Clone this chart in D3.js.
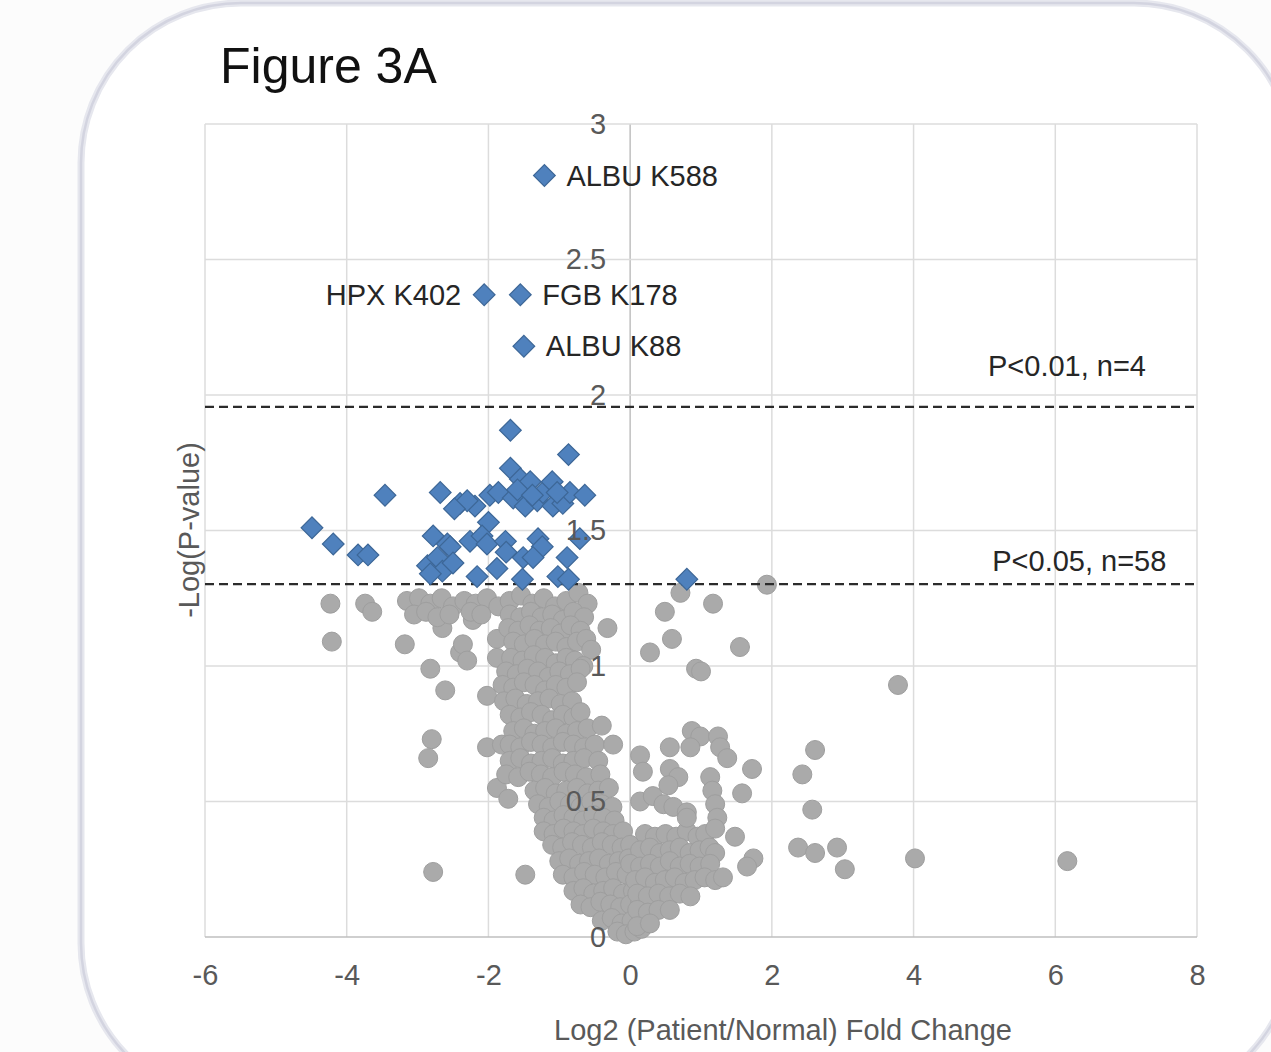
<!DOCTYPE html>
<html>
<head>
<meta charset="utf-8">
<script src="https://cdn.jsdelivr.net/npm/d3@7"></script>
<style>
  body { margin: 0; background: #fcfcfc; }
  svg { display: block; font-family: "Liberation Sans", Arial, sans-serif; }
  .tickText { fill: #595959; font-size: 29px; }
  .axisTitle { fill: #595959; font-size: 29px; }
  .pointLabel { fill: #262626; font-size: 29px; }
</style>
</head>
<body>
<svg id="volcano" width="1271" height="1052"></svg>
<script>
const xTicks = [-6, -4, -2, 0, 2, 4, 6, 8];
const yTicks = [0, 0.5, 1, 1.5, 2, 2.5, 3];

// significance cut-offs, -log10(p)
const thresholds = [
  { value: 1.956, label: "P<0.01, n=4", lx: 5.05, ly: 2.07 },
  { value: 1.302, label: "P<0.05, n=58", lx: 5.11, ly: 1.35 },
];

// labelled hits
const labelledPoints = [
  { x: -1.21, y: 2.81, name: "ALBU K588", side: "right" },
  { x: -2.06, y: 2.37, name: "HPX K402", side: "left" },
  { x: -1.55, y: 2.37, name: "FGB K178", side: "right" },
  { x: -1.50, y: 2.18, name: "ALBU K88", side: "right" },
];

// other significant sites (P<0.05)
const bluePoints = [
  [-1.69, 1.87], [-0.87, 1.78], [-1.69, 1.73], [-2.68, 1.64], [-3.46, 1.63],
  [-2.40, 1.60], [-2.19, 1.59], [-1.98, 1.63], [-1.86, 1.64], [-2.30, 1.61],
  [-1.65, 1.62], [-1.55, 1.69], [-1.48, 1.59], [-1.41, 1.68], [-1.31, 1.61],
  [-1.23, 1.64], [-1.10, 1.68], [-1.09, 1.59], [-0.95, 1.60], [-0.85, 1.64],
  [-0.64, 1.63], [-1.59, 1.65], [-1.38, 1.63], [-1.03, 1.64], [-2.00, 1.53],
  [-2.78, 1.48], [-2.58, 1.45], [-2.86, 1.37], [-2.72, 1.40], [-2.65, 1.35],
  [-2.54, 1.44], [-2.50, 1.38], [-2.26, 1.46], [-2.09, 1.48], [-2.02, 1.45],
  [-1.76, 1.46], [-1.30, 1.47], [-1.24, 1.44], [-1.51, 1.40], [-1.37, 1.40],
  [-0.71, 1.47], [-0.89, 1.40], [-2.16, 1.33], [-1.88, 1.36], [-1.52, 1.32],
  [-1.02, 1.33], [-0.87, 1.32], [-2.82, 1.34], [-4.49, 1.51], [-4.19, 1.45],
  [-3.84, 1.41], [-3.70, 1.41], [0.80, 1.32], [-2.48, 1.58], [-1.75, 1.42],
];

// non-significant sites
const grayPoints = [
  [-4.23, 1.23], [-4.21, 1.09], [-3.74, 1.23], [-3.64, 1.20], [-3.18, 1.08], [-2.82, 0.99], [-2.61, 0.91],
  [-2.80, 0.73], [-2.85, 0.66], [-2.78, 0.24], [-2.02, 0.89], [-2.02, 0.70], [-1.81, 0.71], [-1.88, 0.55],
  [-1.72, 0.51], [-1.48, 0.23], [-2.40, 1.05], [-2.36, 1.08], [-2.30, 1.02], [-1.88, 1.10], [-1.88, 1.03],
  [-2.65, 1.14], [-2.22, 1.17],
  [-3.15, 1.24], [-2.98, 1.25], [-2.82, 1.23], [-2.66, 1.25], [-2.50, 1.22], [-2.34, 1.24], [-2.18, 1.23],
  [-2.02, 1.25], [-1.86, 1.22], [-1.70, 1.24], [-1.54, 1.26], [-1.38, 1.23], [-1.22, 1.25], [-1.06, 1.22],
  [-0.90, 1.24], [-0.73, 1.27], [-0.60, 1.23],
  [-3.05, 1.19], [-2.88, 1.20], [-2.72, 1.18], [-2.55, 1.19], [-2.25, 1.20], [-2.10, 1.19], [-1.70, 1.19],
  [-1.55, 1.18], [-1.40, 1.20], [-1.25, 1.18], [-1.10, 1.19], [-0.95, 1.17], [-0.80, 1.20], [-0.65, 1.18],
  [-1.72, 1.14], [-1.58, 1.13], [-1.42, 1.15], [-1.28, 1.13], [-1.12, 1.14], [-0.98, 1.12], [-0.84, 1.15],
  [-0.70, 1.13], [-0.32, 1.14],
  [-1.65, 1.09], [-1.50, 1.08], [-1.35, 1.10], [-1.20, 1.08], [-1.05, 1.09], [-0.90, 1.07], [-0.75, 1.09],
  [-0.62, 1.10], [-0.55, 1.06],
  [-1.68, 1.03], [-1.52, 1.02], [-1.36, 1.04], [-1.20, 1.03], [-1.05, 1.01], [-0.90, 1.03], [-0.78, 1.02],
  [-0.66, 1.00],
  [-1.75, 0.98], [-1.60, 0.97], [-1.45, 0.99], [-1.30, 0.98], [-1.15, 0.96], [-1.00, 0.98], [-0.85, 0.97],
  [-0.70, 0.99],
  [-1.80, 0.93], [-1.65, 0.92], [-1.50, 0.94], [-1.35, 0.93], [-1.20, 0.91], [-1.05, 0.93], [-0.90, 0.92],
  [-0.75, 0.94],
  [-1.78, 0.87], [-1.62, 0.88], [-1.46, 0.86], [-1.30, 0.87], [-1.14, 0.88], [-0.98, 0.86], [-0.82, 0.87],
  [-1.70, 0.82], [-1.55, 0.81], [-1.40, 0.83], [-1.25, 0.82], [-1.10, 0.80], [-0.95, 0.82], [-0.80, 0.81],
  [-0.70, 0.83],
  [-1.65, 0.76], [-1.50, 0.77], [-1.35, 0.75], [-1.20, 0.76], [-1.05, 0.77], [-0.90, 0.75], [-0.75, 0.76],
  [-0.60, 0.77], [-0.40, 0.78],
  [-1.70, 0.71], [-1.55, 0.70], [-1.40, 0.72], [-1.25, 0.71], [-1.10, 0.70], [-0.95, 0.72], [-0.80, 0.71],
  [-0.65, 0.70], [-0.50, 0.71], [-0.24, 0.71],
  [-1.70, 0.65], [-1.55, 0.66], [-1.40, 0.64], [-1.25, 0.65], [-1.10, 0.66], [-0.95, 0.64], [-0.80, 0.65],
  [-0.65, 0.66], [-0.45, 0.65],
  [-1.75, 0.60], [-1.58, 0.59], [-1.42, 0.61], [-1.26, 0.60], [-1.10, 0.59], [-0.94, 0.61], [-0.78, 0.60],
  [-0.62, 0.59], [-0.42, 0.60],
  [-1.35, 0.54], [-1.20, 0.55], [-1.05, 0.53], [-0.90, 0.54], [-0.75, 0.55], [-0.60, 0.53], [-0.45, 0.54],
  [-0.30, 0.55],
  [-1.30, 0.49], [-1.15, 0.48], [-1.00, 0.50], [-0.85, 0.49], [-0.70, 0.48], [-0.55, 0.50], [-0.40, 0.49],
  [-0.25, 0.48],
  [-1.22, 0.44], [-1.08, 0.43], [-0.94, 0.45], [-0.80, 0.44], [-0.66, 0.43], [-0.52, 0.45], [-0.38, 0.44],
  [-0.22, 0.43],
  [-1.22, 0.39], [-1.08, 0.38], [-0.94, 0.40], [-0.80, 0.39], [-0.66, 0.38], [-0.52, 0.40], [-0.38, 0.39],
  [-0.24, 0.38], [-0.10, 0.39],
  [-1.10, 0.34], [-0.96, 0.33], [-0.82, 0.35], [-0.68, 0.34], [-0.54, 0.33], [-0.40, 0.35], [-0.26, 0.34],
  [-0.12, 0.33], [0.00, 0.34],
  [-1.00, 0.28], [-0.86, 0.29], [-0.72, 0.27], [-0.58, 0.28], [-0.44, 0.29], [-0.30, 0.27], [-0.16, 0.28],
  [-0.02, 0.29],
  [-0.95, 0.23], [-0.80, 0.22], [-0.65, 0.24], [-0.50, 0.23], [-0.35, 0.22], [-0.20, 0.24], [-0.05, 0.23],
  [-0.80, 0.17], [-0.66, 0.18], [-0.52, 0.16], [-0.38, 0.17], [-0.24, 0.18], [-0.10, 0.16], [0.04, 0.17],
  [-0.70, 0.12], [-0.56, 0.11], [-0.42, 0.13], [-0.28, 0.12], [-0.14, 0.11], [0.00, 0.12], [0.14, 0.13],
  [-0.40, 0.06], [-0.26, 0.07], [-0.12, 0.05], [0.02, 0.06], [0.16, 0.07],
  [-0.18, 0.02], [-0.06, 0.01], [0.06, 0.02], [0.16, 0.03],
  [0.21, 0.38], [0.35, 0.37], [0.50, 0.38], [0.65, 0.37], [0.80, 0.39], [0.95, 0.37], [1.06, 0.38],
  [0.14, 0.32], [0.28, 0.33], [0.42, 0.31], [0.56, 0.32], [0.70, 0.33], [0.84, 0.31], [0.98, 0.32],
  [1.12, 0.33], [1.20, 0.31],
  [0.00, 0.27], [0.14, 0.26], [0.28, 0.27], [0.42, 0.26], [0.56, 0.28], [0.70, 0.26], [0.84, 0.27],
  [0.98, 0.26], [1.13, 0.27],
  [0.07, 0.21], [0.21, 0.22], [0.35, 0.20], [0.49, 0.21], [0.63, 0.22], [0.77, 0.20], [0.91, 0.21],
  [1.05, 0.22], [1.20, 0.21], [1.31, 0.22],
  [0.10, 0.16], [0.25, 0.15], [0.40, 0.16], [0.55, 0.15], [0.70, 0.16], [0.85, 0.15],
  [0.10, 0.10], [0.25, 0.09], [0.40, 0.10], [0.56, 0.10],
  [0.10, 0.04], [0.28, 0.05],
  [0.49, 1.20], [0.59, 1.10], [0.28, 1.05], [1.17, 1.23], [1.55, 1.07], [0.93, 0.99], [1.00, 0.98],
  [1.93, 1.30], [0.71, 1.27],
  [3.78, 0.93], [2.61, 0.69], [2.43, 0.60], [2.57, 0.47], [2.37, 0.33], [2.61, 0.31], [2.92, 0.33],
  [3.03, 0.25], [4.02, 0.29], [6.17, 0.28],
  [1.72, 0.62], [1.58, 0.53], [1.48, 0.37], [1.74, 0.29], [1.65, 0.26],
  [0.56, 0.70], [0.87, 0.76], [0.99, 0.74], [0.85, 0.70], [1.24, 0.74], [1.27, 0.70], [1.37, 0.66],
  [0.14, 0.67], [0.18, 0.61], [0.56, 0.62], [0.68, 0.59], [0.54, 0.56], [1.13, 0.59], [1.16, 0.54],
  [1.20, 0.49], [1.23, 0.44], [1.20, 0.40],
  [0.14, 0.50], [0.32, 0.52], [0.47, 0.49], [0.61, 0.48], [0.80, 0.46], [0.80, 0.44],
];

const plotLeft = 205;
const plotRight = 1197;
const plotTop = 124;
const plotBottom = 937;

const x = d3.scaleLinear().domain([-6, 8]).range([plotLeft, plotRight]);
const y = d3.scaleLinear().domain([0, 3]).range([plotBottom, plotTop]);

let svg = d3.select("#volcano");

// rounded frame round the figure
svg
  .append("rect")
  .attr("x", 81)
  .attr("y", 3)
  .attr("width", 1213)
  .attr("height", 1100)
  .attr("rx", 160)
  .attr("fill", "#ffffff")
  .attr("stroke", "#e6e7ee")
  .attr("stroke-width", 7);
svg
  .append("rect")
  .attr("x", 81)
  .attr("y", 3)
  .attr("width", 1213)
  .attr("height", 1100)
  .attr("rx", 160)
  .attr("fill", "none")
  .attr("stroke", "#d3d4e0")
  .attr("stroke-width", 2.5);

svg
  .append("text")
  .text("Figure 3A")
  .attr("x", 220)
  .attr("y", 83)
  .attr("font-size", 50)
  .attr("fill", "#111111");

// grid
let grid = svg.append("g");
grid
  .selectAll(".vgrid")
  .data(xTicks)
  .join("line")
  .attr("x1", (d) => x(d))
  .attr("x2", (d) => x(d))
  .attr("y1", plotTop)
  .attr("y2", plotBottom)
  .attr("stroke", (d) => (d === 0 ? "#bfbfbf" : "#dcdcdc"))
  .attr("stroke-width", 1.5);
grid
  .selectAll(".hgrid")
  .data(yTicks)
  .join("line")
  .attr("x1", plotLeft)
  .attr("x2", plotRight)
  .attr("y1", (d) => y(d))
  .attr("y2", (d) => y(d))
  .attr("stroke", (d) => (d === 0 ? "#bfbfbf" : "#dcdcdc"))
  .attr("stroke-width", 1.5);

// non-significant points
svg
  .append("g")
  .selectAll("circle")
  .data(grayPoints)
  .join("circle")
  .attr("cx", (d) => x(d[0]))
  .attr("cy", (d) => y(d[1]))
  .attr("r", 9.5)
  .attr("fill", "#aaaaaa")
  .attr("stroke", "#9e9e9e")
  .attr("stroke-width", 1);

// threshold lines
svg
  .append("g")
  .selectAll("line")
  .data(thresholds)
  .join("line")
  .attr("x1", plotLeft)
  .attr("x2", plotRight - 2)
  .attr("y1", (d) => y(d.value))
  .attr("y2", (d) => y(d.value))
  .attr("stroke", "#2b2b2b")
  .attr("stroke-width", 2.2)
  .attr("stroke-dasharray", "9,5");

const diamond = d3.symbol().type(d3.symbolSquare).size(235);

// significant points
let allBlue = bluePoints.concat(labelledPoints.map((p) => [p.x, p.y]));
svg
  .append("g")
  .selectAll("path")
  .data(allBlue)
  .join("path")
  .attr("d", diamond)
  .attr("transform", (d) => `translate(${x(d[0])},${y(d[1])}) rotate(45)`)
  .attr("fill", "#4f81bd")
  .attr("stroke", "#3d6797")
  .attr("stroke-width", 1.2);

svg
  .append("g")
  .selectAll("text")
  .data(labelledPoints)
  .join("text")
  .attr("class", "pointLabel")
  .text((d) => d.name)
  .attr("x", (d) => (d.side === "left" ? x(d.x) - 23 : x(d.x) + 22))
  .attr("y", (d) => y(d.y))
  .attr("dy", "0.35em")
  .attr("text-anchor", (d) => (d.side === "left" ? "end" : "start"));

svg
  .append("g")
  .selectAll("text")
  .data(thresholds)
  .join("text")
  .attr("class", "pointLabel")
  .text((d) => d.label)
  .attr("x", (d) => x(d.lx))
  .attr("y", (d) => y(d.ly));

// axes: labels only, Excel style (y labels sit on the x=0 axis)
let xAxis = svg
  .append("g")
  .attr("transform", `translate(0,${plotBottom})`)
  .call(
    d3.axisBottom(x).tickValues(xTicks).tickSize(0).tickPadding(27).tickFormat((d) => String(d))
  );
let yAxis = svg
  .append("g")
  .attr("transform", `translate(${x(0)},0)`)
  .call(d3.axisLeft(y).tickValues(yTicks).tickSize(0).tickPadding(24).tickFormat((d) => String(d)));
[xAxis, yAxis].forEach((a) => {
  a.select(".domain").remove();
  a.selectAll("text").attr("class", "tickText").attr("font-family", null).attr("font-size", null);
});

svg
  .append("text")
  .attr("class", "axisTitle")
  .text("Log2 (Patient/Normal) Fold Change")
  .attr("x", 783)
  .attr("y", 1040)
  .attr("text-anchor", "middle");

svg
  .append("text")
  .attr("class", "axisTitle")
  .text("-Log(P-value)")
  .attr("transform", "translate(199,530) rotate(-90)")
  .attr("text-anchor", "middle");
</script>
</body>
</html>
